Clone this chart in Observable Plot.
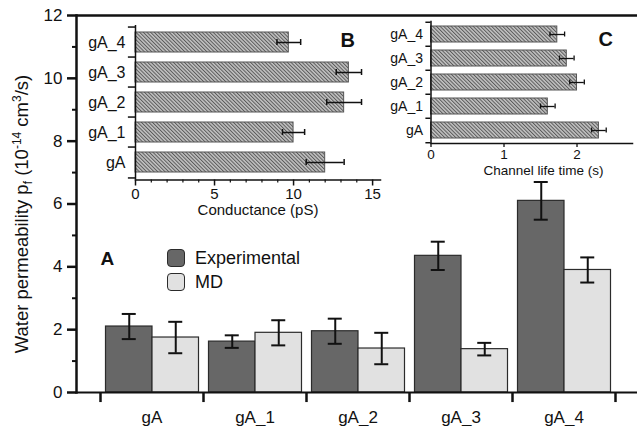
<!DOCTYPE html>
<html>
<head>
<meta charset="utf-8">
<script src="https://cdn.jsdelivr.net/npm/d3@7"></script>
<script src="https://cdn.jsdelivr.net/npm/@observablehq/plot@0.6"></script>
<style>
  body { margin: 0; background: #fff; }
  #wrap { position: relative; width: 637px; height: 426px; overflow: hidden;
          font-family: 'Liberation Sans', Arial, Helvetica, sans-serif; color: #111; }
  #wrap > svg, #wrap > div.p { position: absolute; }
  .sw { position: absolute; width: 16px; height: 16px; border: 1.3px solid #2b2b2b; border-radius: 4px; }
  .lt { position: absolute; font-size: 18px; line-height: 18px; }
</style>
</head>
<body>
<svg width="0" height="0" style="position:absolute">
  <defs>
    <pattern id="hatch" patternUnits="userSpaceOnUse" width="2.6" height="2.6" patternTransform="rotate(-45)">
      <rect width="2.6" height="2.6" fill="#c2c2c2"></rect>
      <rect width="1.0" height="2.6" fill="#5a5a5a"></rect>
    </pattern>
  </defs>
</svg>
<div id="wrap"></div>
<script>
// ---------- data ----------
const cats = ["gA", "gA_1", "gA_2", "gA_3", "gA_4"];
const expVal = [2.1, 1.62, 1.95, 4.35, 6.1];
const expErr = [0.4, 0.2, 0.4, 0.45, 0.6];
const mdVal = [1.75, 1.9, 1.4, 1.38, 3.9];
const mdErr = [0.5, 0.4, 0.5, 0.2, 0.4];
const condVal = [12.0, 10.0, 13.2, 13.5, 9.7];
const condErr = [1.2, 0.7, 1.1, 0.8, 0.75];
const lifeVal = [2.3, 1.6, 2.0, 1.86, 1.73];
const lifeErr = [0.1, 0.1, 0.1, 0.1, 0.1];
const yTicks = [0, 2, 4, 6, 8, 10, 12];
const yMinor = [1, 3, 5, 7, 9, 11];
const condTicks = [0, 5, 10, 15];
const condMinor = [1, 2, 3, 4, 6, 7, 8, 9, 11, 12, 13, 14];
const lifeTicks = [0, 1, 2];
const seriesNames = ["Experimental", "MD"];
const yLabel = "Water permeability pf (10-14 cm3/s)";

const FONT = "'Liberation Sans', Arial, Helvetica, sans-serif";
const wrap = document.getElementById("wrap");
const baseStyle = {fontFamily: FONT, background: "transparent", color: "#111", overflow: "visible"};

// ---------- main chart (A) ----------
const main = cats.map((c, i) => ({cat: c, exp: expVal[i], expErr: expErr[i], md: mdVal[i], mdErr: mdErr[i]}));
const xRange = [100, 615];
const stepA = (xRange[1] - xRange[0]) / cats.length;
const expC = 28.75, mdC = 75.25, capW = 7;

const plotA = Plot.plot({
  width: 637, height: 426,
  marginLeft: 76, marginRight: 0, marginTop: 15, marginBottom: 34,
  x: {type: "band", domain: cats, range: xRange, padding: 0, axis: null},
  y: {domain: [0, 12], axis: null, label: null},
  style: {...baseStyle, fontSize: "17px"},
  marks: [
    Plot.barY(main, {x: "cat", y: "exp", fill: "#676767", stroke: "#2b2b2b", strokeWidth: 1.2, insetLeft: 5.5, insetRight: 51}),
    Plot.barY(main, {x: "cat", y: "md", fill: "#e1e1e1", stroke: "#2b2b2b", strokeWidth: 1.2, insetLeft: 52, insetRight: 4.5}),
    Plot.ruleX(main, {x: "cat", y1: d => d.exp - d.expErr, y2: d => d.exp + d.expErr, dx: expC - stepA / 2, strokeWidth: 2, stroke: "#111"}),
    Plot.tickY(main, {x: "cat", y: d => d.exp - d.expErr, insetLeft: expC - capW, insetRight: stepA - expC - capW, strokeWidth: 2, stroke: "#111"}),
    Plot.tickY(main, {x: "cat", y: d => d.exp + d.expErr, insetLeft: expC - capW, insetRight: stepA - expC - capW, strokeWidth: 2, stroke: "#111"}),
    Plot.ruleX(main, {x: "cat", y1: d => d.md - d.mdErr, y2: d => d.md + d.mdErr, dx: mdC - stepA / 2, strokeWidth: 2, stroke: "#111"}),
    Plot.tickY(main, {x: "cat", y: d => d.md - d.mdErr, insetLeft: mdC - capW, insetRight: stepA - mdC - capW, strokeWidth: 2, stroke: "#111"}),
    Plot.tickY(main, {x: "cat", y: d => d.md + d.mdErr, insetLeft: mdC - capW, insetRight: stepA - mdC - capW, strokeWidth: 2, stroke: "#111"}),
    Plot.axisX({tickSize: 0, tickPadding: 18, fontSize: 17, label: null}),
    Plot.axisY({ticks: yTicks, tickSize: 9, tickPadding: 5, strokeWidth: 2.5, fontSize: 17, label: null}),
    Plot.axisY({ticks: yMinor, tickSize: 4, tickFormat: () => "", strokeWidth: 2, label: null}),
    Plot.frame({anchor: "left", strokeWidth: 2.5}),
    Plot.ruleY([0], {strokeWidth: 2}),
    Plot.ruleY([12], {strokeWidth: 2.5}),
    Plot.ruleX(cats, {x: d => d, dx: -stepA / 2, y1: 0, y2: -0.32, strokeWidth: 2.5}),
    Plot.ruleX([cats[cats.length - 1]], {x: d => d, dx: stepA / 2, y1: 0, y2: -0.32, strokeWidth: 2.5}),
    Plot.text(["A"], {frameAnchor: "top-left", dx: 24, dy: 249, textAnchor: "start", lineAnchor: "bottom", fontWeight: "bold", fontSize: 19}),
    Plot.text([yLabel], {frameAnchor: "left", textAnchor: "middle", rotate: -90, dx: -54, dy: 10, fontSize: 18.5})
  ]
});
plotA.style.left = "0px"; plotA.style.top = "0px";
wrap.appendChild(plotA);

// rich y label (subscript / superscripts)
d3.select(plotA).selectAll("text").filter(function () { return this.textContent === yLabel; })
  .each(function () {
    const t = d3.select(this);
    t.text("");
    t.append("tspan").text("Water permeability p");
    t.append("tspan").attr("font-size", 12).attr("dy", 4).text("f");
    t.append("tspan").attr("dy", -4).text(" (10");
    t.append("tspan").attr("font-size", 12).attr("dy", -7).text("-14");
    t.append("tspan").attr("dy", 7).text(" cm");
    t.append("tspan").attr("font-size", 12).attr("dy", -7).text("3");
    t.append("tspan").attr("dy", 7).text("/s)");
  });

// ---------- inset B ----------
const catsRev = cats.slice().reverse();
const condData = cats.map((c, i) => ({cat: c, v: condVal[i], e: condErr[i]}));
const bTop = 25, bBottom = 179.5;
const stepB = (bBottom - bTop) / cats.length;
const plotB = Plot.plot({
  width: 400, height: 230,
  marginLeft: 135, marginRight: 20, marginTop: bTop, marginBottom: 230 - bBottom,
  x: {domain: [0, 15.5], axis: null, label: null},
  y: {type: "band", domain: catsRev, paddingInner: 0.34, paddingOuter: 0.17, axis: null, label: null},
  style: {...baseStyle, fontSize: "15px"},
  marks: [
    Plot.barX(condData, {y: "cat", x: "v", fill: "url(#hatch)", stroke: "#555", strokeWidth: 1}),
    Plot.ruleY(condData, {y: "cat", x1: d => d.v - d.e, x2: d => d.v + d.e, strokeWidth: 1.5, stroke: "#111"}),
    Plot.tickX(condData, {y: "cat", x: d => d.v - d.e, insetTop: 7, insetBottom: 7, strokeWidth: 1.5, stroke: "#111"}),
    Plot.tickX(condData, {y: "cat", x: d => d.v + d.e, insetTop: 7, insetBottom: 7, strokeWidth: 1.5, stroke: "#111"}),
    Plot.ruleX([0], {strokeWidth: 1.5}),
    Plot.frame({anchor: "bottom", strokeWidth: 1.5}),
    Plot.ruleY(catsRev, {y: d => d, dy: -stepB / 2, x1: -0.45, x2: 0, strokeWidth: 1.5}),
    Plot.ruleY([catsRev[catsRev.length - 1]], {y: d => d, dy: stepB / 2, x1: -0.45, x2: 0, strokeWidth: 1.5}),
    Plot.axisX({ticks: condTicks, tickSize: 6, tickPadding: 2, fontSize: 15, strokeWidth: 1.5, label: null}),
    Plot.axisX({ticks: condMinor, tickSize: 3, tickFormat: () => "", strokeWidth: 1.2, label: null}),
    Plot.axisY({tickSize: 0, tickPadding: 10, fontSize: 16, label: null}),
    Plot.text(["B"], {frameAnchor: "top-left", dx: 205, dy: 21, textAnchor: "start", lineAnchor: "bottom", fontWeight: "bold", fontSize: 20}),
    Plot.text(["Conductance (pS)"], {frameAnchor: "bottom", dy: 35, fontSize: 15})
  ]
});
plotB.style.left = "0px"; plotB.style.top = "0px";
wrap.appendChild(plotB);

// ---------- inset C ----------
const lifeData = cats.map((c, i) => ({cat: c, v: lifeVal[i], e: lifeErr[i]}));
const cTop = 20.7, cBottom = 143, cH = 185;
const stepC = (cBottom - cTop) / cats.length;
const plotC = Plot.plot({
  width: 257, height: cH,
  marginLeft: 50.5, marginRight: 5, marginTop: cTop, marginBottom: cH - cBottom,
  x: {domain: [0, 2.76], axis: null, label: null},
  y: {type: "band", domain: catsRev, paddingInner: 0.33, paddingOuter: 0.165, axis: null, label: null},
  style: {...baseStyle, fontSize: "14px"},
  marks: [
    Plot.barX(lifeData, {y: "cat", x: "v", fill: "url(#hatch)", stroke: "#555", strokeWidth: 1}),
    Plot.ruleY(lifeData, {y: "cat", x1: d => d.v - d.e, x2: d => d.v + d.e, strokeWidth: 1.3, stroke: "#111"}),
    Plot.tickX(lifeData, {y: "cat", x: d => d.v - d.e, insetTop: 5.5, insetBottom: 5.5, strokeWidth: 1.3, stroke: "#111"}),
    Plot.tickX(lifeData, {y: "cat", x: d => d.v + d.e, insetTop: 5.5, insetBottom: 5.5, strokeWidth: 1.3, stroke: "#111"}),
    Plot.ruleX([0], {strokeWidth: 1.5}),
    Plot.frame({anchor: "bottom", strokeWidth: 1.5}),
    Plot.ruleY(catsRev, {y: d => d, dy: -stepC / 2, x1: -0.07, x2: 0, strokeWidth: 1.5}),
    Plot.ruleY([catsRev[catsRev.length - 1]], {y: d => d, dy: stepC / 2, x1: -0.07, x2: 0, strokeWidth: 1.5}),
    Plot.axisX({ticks: lifeTicks, tickSize: 4, tickPadding: 2, tickFormat: d3.format("d"), fontSize: 13.5, strokeWidth: 1.3, label: null}),
    Plot.axisY({tickSize: 0, tickPadding: 8, fontSize: 14, label: null}),
    Plot.text(["C"], {frameAnchor: "top-left", dx: 167.5, dy: 24.3, textAnchor: "start", lineAnchor: "bottom", fontWeight: "bold", fontSize: 20}),
    Plot.text(["Channel life time (s)"], {frameAnchor: "bottom", dx: 11.75, dy: 31, fontSize: 13.5})
  ]
});
plotC.style.left = "380px"; plotC.style.top = "0px";
wrap.appendChild(plotC);

// ---------- legend ----------
const legColors = ["#676767", "#e1e1e1"];
seriesNames.forEach((name, i) => {
  const sw = document.createElement("div");
  sw.className = "sw";
  sw.style.left = "167px"; sw.style.top = (249 + i * 24) + "px";
  sw.style.background = legColors[i];
  wrap.appendChild(sw);
  const lt = document.createElement("div");
  lt.className = "lt";
  lt.style.left = "195px"; lt.style.top = (249 + i * 24) + "px";
  lt.textContent = name;
  wrap.appendChild(lt);
});
</script>
</body>
</html>
